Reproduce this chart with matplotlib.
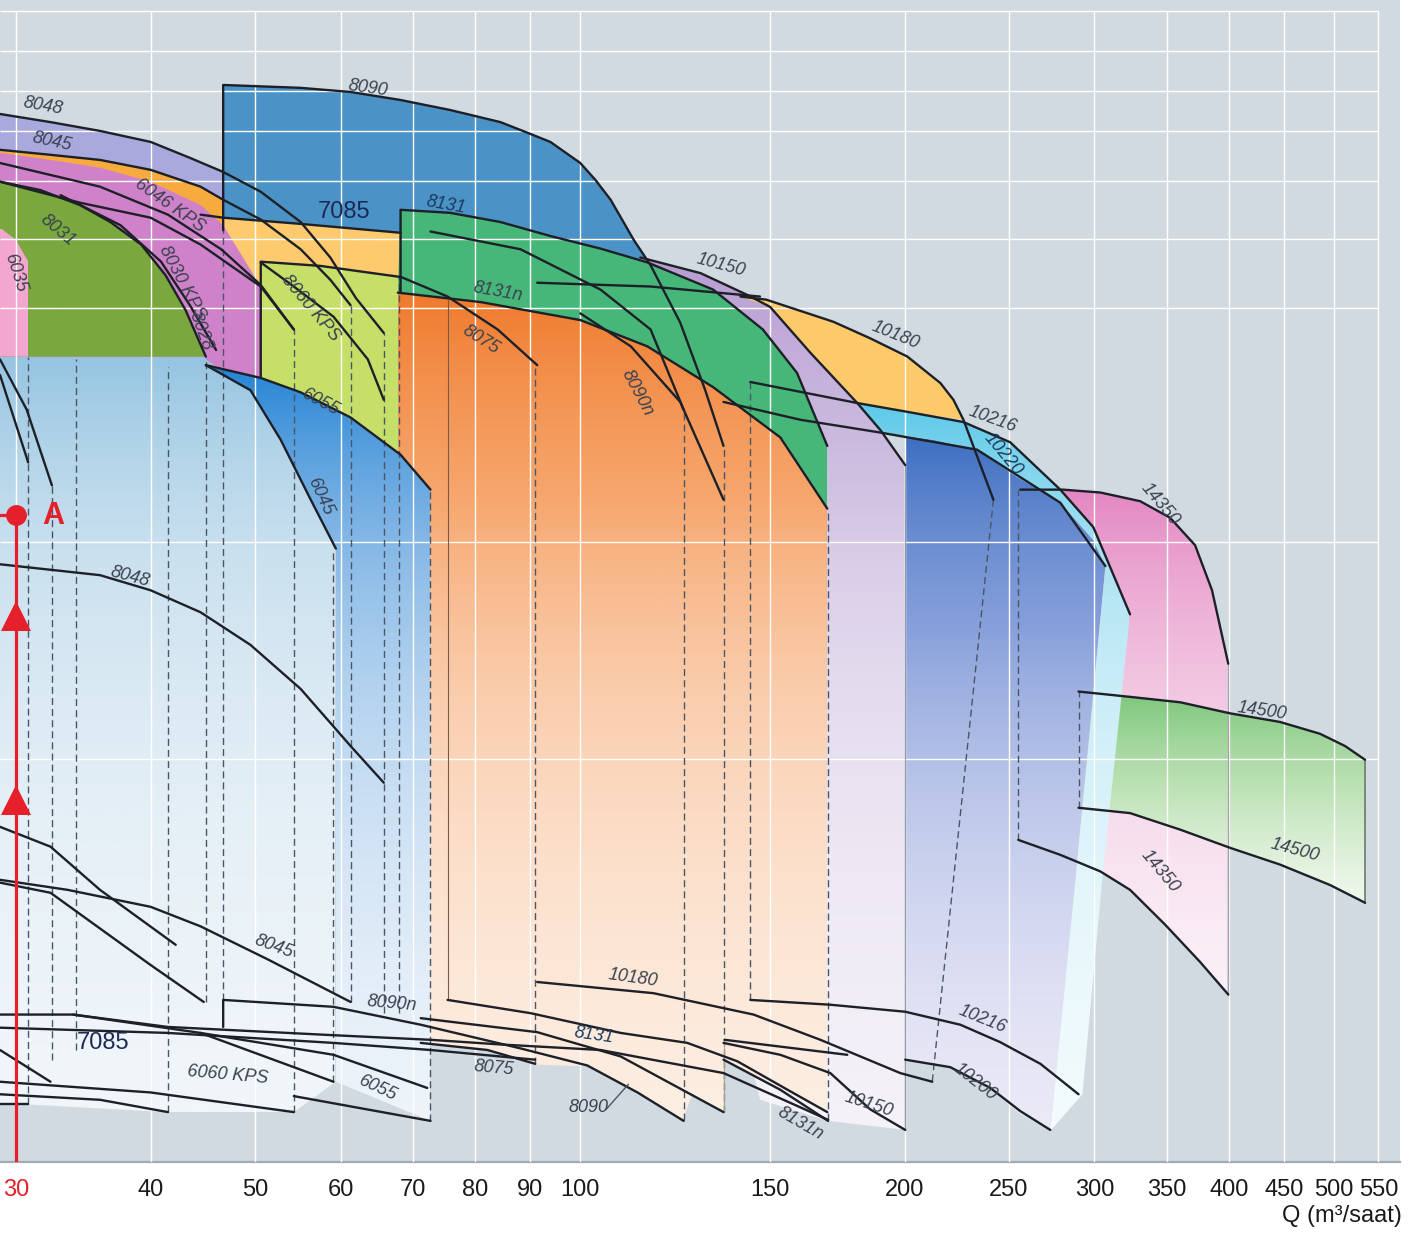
import numpy as np
import matplotlib
matplotlib.use("Agg")
import matplotlib.pyplot as plt
from matplotlib.patches import Polygon
from matplotlib.colors import LinearSegmentedColormap
from matplotlib.ticker import NullLocator

plt.rcParams['font.family'] = ['Liberation Sans Narrow', 'Liberation Sans', 'DejaVu Sans']

# axis ticks and grid (Q in m3/saat, H read on a log scale)
XTICKS = [30, 40, 50, 60, 70, 80, 90, 100, 150, 200, 250, 300, 350, 400, 450, 500, 550]
GRID_H = [100, 88.4, 78.2, 69.1, 59.3, 49.6, 40.0, 19.5, 10.0]

# coloured pump fields
ZONE_8048_Q = [29.0, 32.3, 35.9, 40.0, 43.5, 46.7, 46.7, 29.0]
ZONE_8048_H = [72.8, 71.0, 69.1, 66.8, 63.6, 60.9, 34.2, 34.2]
ZONE_6046_Q = [29.0, 32.3, 35.9, 40.0, 44.5, 46.7, 46.7, 29.0]
ZONE_6046_H = [65.2, 64.2, 63.2, 61.3, 58.2, 55.9, 34.2, 34.2]
ZONE_8090_Q = [46.7, 55.1, 61.3, 68.2, 75.8, 84.4, 88.1, 93.9, 100.1, 103.4, 106.8, 112.2, 116.3, 116.3, 46.7]
ZONE_8090_H = [79.6, 78.9, 77.9, 76.0, 73.7, 71.0, 69.3, 66.8, 62.6, 59.4, 55.9, 49.4, 45.7, 41.1, 41.1]
ZONE_7085_Q = [46.7, 55.1, 68.2, 68.2, 46.7]
ZONE_7085_H = [52.9, 51.9, 50.5, 25.1, 25.1]
ZONE_8030_Q = [29.0, 32.3, 35.9, 40.0, 44.5, 46.7, 50.6, 50.6, 29.0]
ZONE_8030_H = [64.6, 63.2, 61.7, 59.1, 55.0, 51.7, 42.8, 32.1, 32.1]
ZONE_8031_Q = [29.0, 31.6, 34.4, 36.7, 39.2, 41.3, 43.1, 45.0, 29.0]
ZONE_8031_H = [59.1, 57.6, 55.0, 52.2, 48.7, 44.3, 39.8, 34.5, 34.5]
ZONE_6035_Q = [29.0, 30.0, 30.8, 30.8, 29.0]
ZONE_6035_H = [51.3, 49.4, 46.2, 34.5, 34.5]
ZONE_8060_Q = [50.6, 57.5, 68.0, 68.0, 61.3, 55.1, 50.6]
ZONE_8060_H = [46.2, 45.6, 44.1, 25.7, 28.6, 30.9, 32.3]
ZONE_10150_Q = [113.8, 129.4, 143.0, 150.1, 163.6, 180.8, 190.0, 200.3, 200.3, 169.9, 146.9, 113.8]
ZONE_10150_H = [46.8, 44.6, 41.7, 40.2, 34.9, 29.9, 27.5, 24.7, 3.19, 3.28, 3.50, 16.3]
ZONE_8075_Q = [67.8, 80.9, 100.1, 115.5, 132.9, 153.4, 169.6, 169.6, 155.8, 135.9, 135.9,
               127.1, 124.5, 113.1, 101.6, 90.9, 82.1, 67.8]
ZONE_8075_H = [42.0, 40.8, 38.6, 35.6, 31.4, 26.9, 21.6, 3.35, 3.59, 3.94, 3.37,
               3.56, 3.28, 3.58, 3.88, 3.90, 4.08, 4.21]
ZONE_8131_Q = [68.2, 75.8, 84.4, 93.9, 104.5, 115.5, 132.9, 147.8, 159.0, 169.6, 169.6, 153.4, 132.9, 115.5, 100.1, 80.9, 67.8]
ZONE_8131_H = [54.2, 53.7, 52.2, 50.0, 48.1, 46.1, 42.4, 37.5, 32.8, 26.2, 21.6, 26.9, 31.4, 35.6, 38.6, 40.8, 42.0]
ZONE_10180_Q = [140.9, 148.9, 171.8, 185.8, 201.2, 215.9, 222.0, 226.8, 201.2, 180.8, 163.6, 150.1]
ZONE_10180_H = [41.5, 41.1, 38.4, 36.5, 34.5, 31.8, 30.2, 28.4, 29.1, 29.9, 34.9, 40.2]
ZONE_14350_Q = [280.7, 303.8, 330.8, 352.6, 371.9, 385.6, 399.2, 399.2, 375.9, 348.9, 323.7, 303.8, 278.9, 255.0, 255.0]
ZONE_14350_H = [22.9, 22.7, 22.1, 21.0, 19.3, 16.8, 13.4, 4.84, 5.35, 6.00, 6.68, 7.07, 7.44, 7.79, 22.9]
ZONE_14500_Q = [290.0, 323.7, 360.3, 401.0, 445.9, 485.6, 512.3, 534.6, 534.6, 496.1, 445.9, 401.0, 360.3, 323.7, 290.0]
ZONE_14500_H = [12.3, 12.1, 11.9, 11.5, 11.2, 10.8, 10.4, 9.97, 6.42, 6.78, 7.22, 7.60, 8.04, 8.46, 8.60]
ZONE_10216_Q = [200.3, 212.6, 233.5, 254.4, 278.9, 299.3, 307.1, 288.1, 273.0, 256.1, 240.2, 220.5, 200.3]
ZONE_10216_H = [27.0, 26.7, 25.9, 23.8, 22.0, 19.6, 18.1, 6.89, 3.18, 3.35, 3.61, 3.86, 3.94]
ZONE_10220_Q = [180.8, 201.2, 226.8, 250.6, 278.9, 299.3, 323.7, 305.0, 292.4, 273.0, 288.1, 307.1, 299.3, 278.9, 254.4, 233.5, 212.6, 190.0]
ZONE_10220_H = [29.9, 29.1, 28.2, 26.5, 22.9, 20.4, 15.6, 6.89, 3.56, 3.18, 6.89, 18.1, 19.6, 22.0, 23.8, 25.9, 26.7, 27.3]
ZONE_LOW_Q = [29.0, 45.0, 45.0, 49.5, 52.8, 56.3, 59.4, 59.4, 54.3, 41.5, 30.8, 29.0]
ZONE_LOW_H = [34.5, 34.5, 34.2, 31.1, 26.7, 22.2, 19.1, 3.70, 3.37, 3.37, 3.45, 3.45]
ZONE_6045_Q = [45.0, 50.6, 55.1, 61.3, 68.2, 72.7, 72.7, 59.4, 59.4, 56.3, 52.8, 49.5]
ZONE_6045_H = [33.6, 32.3, 30.9, 28.6, 25.5, 22.9, 3.28, 3.70, 19.1, 22.2, 26.7, 31.1]

# upper (largest impeller) curves
TOP_8048_Q = [29.0, 32.3, 35.9, 40.0, 43.5, 46.7, 50.6, 55.1, 58.7, 62.0, 65.8]
TOP_8048_H = [72.8, 71.0, 69.1, 66.8, 63.6, 60.9, 57.3, 52.2, 46.8, 41.3, 37.1]
TOP_8045_Q = [29.0, 32.3, 35.9, 40.0, 44.5, 46.7, 50.6, 55.1, 58.7, 61.3]
TOP_8045_H = [65.2, 64.2, 63.2, 61.3, 58.2, 55.9, 52.6, 48.0, 43.7, 40.4]
TOP_7085_Q = [44.5, 46.7, 55.1, 68.2]
TOP_7085_H = [53.4, 52.9, 51.9, 50.5]
TOP_8030_Q = [29.0, 35.9, 41.5, 46.5, 50.6, 54.3]
TOP_8030_H = [62.6, 58.2, 53.4, 48.0, 43.0, 37.5]
TOP_8030B_Q = [29.0, 34.4, 40.0, 44.5, 50.6]
TOP_8030B_H = [59.1, 55.4, 52.9, 48.7, 42.8]
TOP_8028_Q = [33.0, 37.5, 40.9, 43.5, 46.0]
TOP_8028_H = [56.7, 51.7, 46.2, 40.4, 35.2]
TOP_8031_Q = [29.0, 31.6, 34.4, 36.7, 39.2, 41.3, 43.1, 45.0]
TOP_8031_H = [59.1, 57.6, 55.0, 52.2, 48.7, 44.3, 39.8, 34.5]
TOP_6035A_Q = [29.0, 30.7, 32.4]
TOP_6035A_H = [34.2, 29.3, 23.2]
TOP_6035B_Q = [29.0, 30.8]
TOP_6035B_H = [32.6, 24.9]
TOP_8060_Q = [50.6, 50.6, 57.5, 68.0]
TOP_8060_H = [32.3, 46.2, 45.6, 44.1]
TOP_8060A_Q = [50.6, 54.3, 59.1, 63.6, 65.8]
TOP_8060A_H = [46.1, 42.8, 39.0, 34.2, 30.2]
TOP_8060B_Q = [50.6, 54.3]
TOP_8060B_H = [42.8, 37.5]
TOP_6055_Q = [45.0, 50.6, 55.1, 61.3, 68.2, 72.7]
TOP_6055_H = [33.6, 32.3, 30.9, 28.6, 25.5, 22.9]
TOP_6045_Q = [45.0, 49.5, 52.8, 56.3, 59.4]
TOP_6045_H = [33.6, 31.1, 26.7, 22.2, 19.1]
TOP_8090_Q = [46.7, 46.7, 55.1, 61.3, 68.2, 75.8, 84.4, 88.1, 93.9, 100.1, 103.4, 106.8, 112.2, 116.3, 123.9, 130.7, 135.9]
TOP_8090_H = [50.9, 79.6, 78.9, 77.9, 76.0, 73.7, 71.0, 69.3, 66.8, 62.6, 59.4, 55.9, 49.4, 45.7, 38.3, 31.1, 26.2]
TOP_8131_Q = [68.2, 68.2, 75.8, 84.4, 93.9, 104.5, 115.5, 132.9, 147.8, 159.0, 169.6]
TOP_8131_H = [42.0, 54.2, 53.7, 52.2, 50.0, 48.1, 46.1, 42.4, 37.5, 32.8, 26.2]
TOP_8131N_Q = [67.8, 80.9, 100.1, 115.5, 132.9, 153.4, 169.6]
TOP_8131N_H = [42.0, 40.8, 38.6, 35.6, 31.4, 26.9, 21.6]
TOP_8075_Q = [68.2, 75.4, 83.9, 91.3]
TOP_8075_H = [44.1, 41.5, 37.5, 33.6]
TOP_8090N_Q = [100.1, 111.5, 123.9, 135.9]
TOP_8090N_H = [39.4, 35.6, 30.0, 22.2]
TOP_MIDA_Q = [72.7, 88.1, 104.5, 116.3, 124.8]
TOP_MIDA_H = [50.7, 48.0, 42.4, 37.5, 29.3]
TOP_MIDB_Q = [91.3, 116.3, 146.9]
TOP_MIDB_H = [43.3, 42.8, 41.5]
TOP_10150_Q = [113.8, 129.4, 143.0, 150.1, 163.6, 180.8, 190.0, 200.3]
TOP_10150_H = [46.8, 44.6, 41.7, 40.2, 34.9, 29.9, 27.5, 24.7]
TOP_10180_Q = [140.9, 148.9, 171.8, 185.8, 201.2, 215.9, 222.0, 226.8, 241.8]
TOP_10180_H = [41.5, 41.1, 38.4, 36.5, 34.5, 31.8, 30.2, 28.4, 22.2]
TOP_10216_Q = [143.9, 180.8, 201.2, 226.8, 250.6, 278.9, 299.3, 323.7]
TOP_10216_H = [31.9, 29.9, 29.1, 28.2, 26.5, 22.9, 20.4, 15.6]
TOP_10200_Q = [135.9, 160.1, 190.0, 233.5, 278.9, 307.1]
TOP_10200_H = [30.0, 28.4, 27.3, 25.9, 22.0, 18.1]
TOP_14350_Q = [256.1, 280.7, 303.8, 330.8, 352.6, 371.9, 385.6, 399.2]
TOP_14350_H = [22.9, 22.9, 22.7, 22.1, 21.0, 19.3, 16.8, 13.4]
TOP_14500_Q = [290.0, 323.7, 360.3, 401.0, 445.9, 485.6, 512.3, 534.6]
TOP_14500_H = [12.3, 12.1, 11.9, 11.5, 11.2, 10.8, 10.4, 9.97]

# lower (smallest impeller) curves
LOW_8048_Q = [29.0, 35.9, 40.0, 44.5, 49.5, 55.1, 61.3, 65.8]
LOW_8048_H = [18.2, 17.6, 16.8, 15.7, 14.2, 12.4, 10.4, 9.29]
LOW_A_Q = [29.0, 32.3, 35.9, 42.2]
LOW_A_H = [8.11, 7.63, 6.68, 5.64]
LOW_B_Q = [29.0, 32.3, 40.0, 44.8]
LOW_B_H = [6.83, 6.62, 5.30, 4.73]
LOW_8045_Q = [29.0, 33.5, 40.0, 44.5, 51.4, 61.3]
LOW_8045_H = [6.89, 6.68, 6.34, 5.97, 5.39, 4.73]
LOW_8090_Q = [46.7, 46.7, 59.1, 71.2, 88.1, 101.6, 113.1, 124.8]
LOW_8090_H = [4.38, 4.76, 4.66, 4.41, 4.10, 3.89, 3.58, 3.28]
LOW_C_Q = [29.0, 33.9, 41.5, 59.1, 72.7, 84.4, 104.5, 135.9, 160.1, 169.9]
LOW_C_H = [4.55, 4.55, 4.38, 4.27, 4.21, 4.15, 4.08, 3.80, 3.42, 3.29]
LOW_D_Q = [29.0, 41.5, 59.1, 72.7, 90.9]
LOW_D_H = [4.37, 4.30, 4.17, 4.08, 3.96]
LOW_E_Q = [33.9, 44.5, 59.1]
LOW_E_H = [4.55, 4.30, 3.70]
LOW_F_Q = [44.5, 59.1, 72.2]
LOW_F_H = [4.30, 4.02, 3.63]
LOW_G_Q = [29.0, 32.3]
LOW_G_H = [4.08, 3.70]
LOW_6060_Q = [29.0, 40.0, 54.3]
LOW_6060_H = [3.70, 3.58, 3.37]
LOW_H_Q = [29.0, 35.9, 41.5]
LOW_H_H = [3.56, 3.50, 3.37]
LOW_I_Q = [71.2, 91.3, 109.1, 135.9]
LOW_I_H = [4.50, 4.31, 4.00, 3.37]
LOW_J_Q = [136.2, 177.0]
LOW_J_H = [4.21, 4.02]
LOW_6055_Q = [54.3, 72.7]
LOW_6055_H = [3.54, 3.28]
LOW_BOX_Q = [29.0, 30.8]
LOW_BOX_H = [3.45, 3.45]
LOW_8075_Q = [71.2, 82.1, 90.9]
LOW_8075_H = [4.17, 4.08, 3.91]
LOW_8131_Q = [75.4, 90.0, 109.1, 125.8, 140.0, 155.8, 169.6]
LOW_8131_H = [4.76, 4.57, 4.30, 4.17, 3.94, 3.61, 3.37]
LOW_10180_Q = [91.3, 117.0, 144.9, 167.1, 182.0, 198.2, 212.2]
LOW_10180_H = [5.03, 4.86, 4.55, 4.21, 4.00, 3.80, 3.70]
LOW_10216_Q = [143.9, 170.7, 200.3, 225.3, 245.3, 267.3, 290.0]
LOW_10216_H = [4.76, 4.69, 4.59, 4.41, 4.18, 3.91, 3.56]
LOW_10150_Q = [135.9, 153.4, 170.7, 185.8, 200.3]
LOW_10150_H = [4.17, 4.02, 3.80, 3.40, 3.19]
LOW_10200_Q = [200.3, 220.5, 240.2, 256.1, 273.0]
LOW_10200_H = [3.96, 3.87, 3.63, 3.38, 3.19]
LOW_8131N_Q = [135.9, 153.4, 169.9]
LOW_8131N_H = [3.96, 3.61, 3.28]
LOW_14350_Q = [255.0, 278.9, 303.8, 323.7, 348.9, 375.9, 399.2]
LOW_14350_H = [7.79, 7.44, 7.07, 6.68, 6.00, 5.35, 4.84]
LOW_14500_Q = [290.0, 323.7, 360.3, 401.0, 445.9, 496.1, 534.6]
LOW_14500_H = [8.60, 8.46, 8.04, 7.60, 7.22, 6.78, 6.42]

# dashed limit lines (Q, H top, H bottom)
DASH_Q = [30.8, 32.4, 34.1, 41.5, 45.0, 46.7, 54.3, 59.1, 61.3, 65.8, 68.0, 72.7, 90.9, 124.8, 135.9, 143.9, 169.9, 255.0, 290.0]
DASH_TOP = [34.5, 23.2, 34.2, 33.4, 34.5, 50.9, 37.5, 19.1, 40.4, 37.1, 44.1, 22.9, 33.6, 29.3, 26.2, 31.9, 21.6, 22.9, 12.3]
DASH_BOT = [3.45, 3.96, 4.08, 3.37, 4.73, 4.76, 3.37, 3.70, 4.73, 4.57, 4.57, 3.28, 3.91, 3.29, 3.37, 4.76, 3.29, 7.79, 8.60]
SLANT_Q = [241.8, 212.2]
SLANT_H = [22.2, 3.70]

# curve names
LABELS = ['8048', '8045', '6046 KPS', '8031', '6035', '8030 KPS', '8028', '8090', '8131',
          '8131n', '8060 KPS', '6055', '6045', '8075', '8090n', '10150', '10180', '10216',
          '10220', '14350', '14500', '14500', '14350', '8048', '8045', '8090n', '6060 KPS',
          '6055', '10180', '8131', '8075', '8090', '10150', '8131n', '10216', '10200']
LABEL_Q = [31.8, 32.4, 41.7, 32.8, 30.0, 42.8, 44.5, 63.6, 75.1,
           83.9, 56.3, 57.5, 57.5, 80.9, 113.1, 135.1, 196.2, 241.2,
           246.9, 345.2, 429.2, 460.3, 345.2, 38.3, 52.0, 67.0, 47.2,
           65.0, 112.0, 103.0, 83.2, 101.9, 185.1, 160.1, 236.1, 232.6]
LABEL_H = [74.6, 66.8, 55.0, 50.9, 44.6, 43.3, 37.3, 78.9, 55.0,
           42.1, 40.0, 30.0, 22.4, 36.3, 30.8, 45.7, 36.9, 28.4,
           25.5, 21.9, 11.6, 7.55, 7.07, 17.5, 5.61, 4.71, 3.78,
           3.63, 5.09, 4.27, 3.86, 3.42, 3.45, 3.25, 4.48, 3.70]
LABEL_ROT = [-10, -12, -35, -40, -72, -62, -70, -8, -10,
             -10, -50, -28, -65, -32, -62, -15, -22, -20,
             -50, -50, -8, -15, -50, -15, -20, -5, -5,
             -25, -8, -8, -5, 0, -18, -30, -22, -38]
BIG_LABELS = ['7085', '7085']
BIG_Q = [60.4, 36.1]
BIG_H = [53.9, 4.17]

# duty point A
POINT_Q = 30
POINT_H = 21.2
ARROW_H = [15.5, 8.82]

BG = '#d2dae1'
RED = '#e5202b'
INK = '#1d2027'

fig = plt.figure(figsize=(14.27, 12.36), dpi=100)
ax = fig.add_axes([0, 74 / 1236, 1400 / 1427, 1162 / 1236])
ax.set_xscale('log')
ax.set_yscale('log')
ax.set_xlim(29.0, 576)
ax.set_ylim(2.89, 103.4)
ax.set_autoscale_on(False)
ax.set_facecolor(BG)


def shade(q, h, colors, z):
    poly = Polygon(np.column_stack([q, h]), closed=True, facecolor='none',
                   edgecolor='none', zorder=z)
    ax.add_patch(poly)
    cmap = LinearSegmentedColormap.from_list('shade', colors)
    grad = np.linspace(0, 1, 256)[:, None]
    im = ax.imshow(grad, cmap=cmap, extent=(min(q), max(q), min(h), max(h)),
                   origin='upper', aspect='auto', interpolation='bilinear', zorder=z)
    im.set_clip_path(poly)


zones = [
    (ZONE_8048_Q, ZONE_8048_H, ['#a9a9de', '#a9a9de']),
    (ZONE_6046_Q, ZONE_6046_H, ['#f7ab3f', '#f7ab3f']),
    (ZONE_8090_Q, ZONE_8090_H, ['#4b93c7', '#4b93c7']),
    (ZONE_7085_Q, ZONE_7085_H, ['#fdca6d', '#fdca6d']),
    (ZONE_8030_Q, ZONE_8030_H, ['#cf82c9', '#cf82c9']),
    (ZONE_8031_Q, ZONE_8031_H, ['#7aa83e', '#7aa83e']),
    (ZONE_6035_Q, ZONE_6035_H, ['#f3a7cf', '#f3a7cf']),
    (ZONE_8060_Q, ZONE_8060_H, ['#c6df69', '#c6df69']),
    (ZONE_10150_Q, ZONE_10150_H, ['#b79cd2', '#cdbde0', '#f4f1f8']),
    (ZONE_8075_Q, ZONE_8075_H, ['#ef7a2c', '#f6a56c', '#fdeee2']),
    (ZONE_8131_Q, ZONE_8131_H, ['#46b779', '#46b779']),
    (ZONE_10180_Q, ZONE_10180_H, ['#fdca6b', '#fdca6b']),
    (ZONE_14350_Q, ZONE_14350_H, ['#e387c2', '#f0bddc', '#fbf1f7']),
    (ZONE_14500_Q, ZONE_14500_H, ['#7dc67b', '#b9e0b1', '#f1f8ee']),
    (ZONE_10216_Q, ZONE_10216_H, ['#3e6fc1', '#869fda', '#eceaf7']),
    (ZONE_10220_Q, ZONE_10220_H, ['#5cc9e8', '#b6e6f4', '#f3fbfd']),
    (ZONE_LOW_Q, ZONE_LOW_H, ['#95c4e1', '#c9e0ee', '#f1f6fa']),
    (ZONE_6045_Q, ZONE_6045_H, ['#2483d4', '#8bbbe7', '#eef4fa']),
]
for i, (q, h, cols) in enumerate(zones):
    shade(q, h, cols, 2 + i * 0.1)

# white grid over the fields
ax.hlines(GRID_H, 29.0, 550, colors='white', lw=1.0, zorder=10)
ax.vlines(XTICKS, 2.89, 100, colors='white', lw=1.0, zorder=10)

# dashed limits
for q, t, b in zip(DASH_Q, DASH_TOP, DASH_BOT):
    ax.plot([q, q], [b, t], color='#4a5566', lw=1.0, dashes=(5, 3), zorder=12)
ax.plot(SLANT_Q, SLANT_H, color='#4a5566', lw=1.0, dashes=(5, 3), zorder=12)
ax.plot([75.4, 75.4], [4.76, 41.1], color='#7a5a4a', lw=0.8, zorder=12)
ax.plot([200.3, 200.3], [3.19, 24.7], color='#9a9aaa', lw=0.8, zorder=12)
ax.plot([534.6, 534.6], [6.42, 9.97], color='#6a7a6a', lw=1.2, zorder=12)
ax.plot([399.2, 399.2], [4.84, 13.4], color='#b0a0b0', lw=1.0, zorder=12)
ax.plot([135.9, 135.9], [3.37, 4.21], color='#b0a090', lw=0.8, zorder=12)

curves = [
    (TOP_8048_Q, TOP_8048_H), (TOP_8045_Q, TOP_8045_H), (TOP_7085_Q, TOP_7085_H),
    (TOP_8030_Q, TOP_8030_H), (TOP_8030B_Q, TOP_8030B_H), (TOP_8028_Q, TOP_8028_H),
    (TOP_8031_Q, TOP_8031_H),
    (TOP_6035A_Q, TOP_6035A_H), (TOP_6035B_Q, TOP_6035B_H), (TOP_8060_Q, TOP_8060_H),
    (TOP_8060A_Q, TOP_8060A_H), (TOP_8060B_Q, TOP_8060B_H), (TOP_6055_Q, TOP_6055_H),
    (TOP_6045_Q, TOP_6045_H), (TOP_8090_Q, TOP_8090_H), (TOP_8131_Q, TOP_8131_H),
    (TOP_8131N_Q, TOP_8131N_H), (TOP_8075_Q, TOP_8075_H), (TOP_8090N_Q, TOP_8090N_H),
    (TOP_MIDA_Q, TOP_MIDA_H), (TOP_MIDB_Q, TOP_MIDB_H), (TOP_10150_Q, TOP_10150_H),
    (TOP_10180_Q, TOP_10180_H), (TOP_10216_Q, TOP_10216_H), (TOP_10200_Q, TOP_10200_H),
    (TOP_14350_Q, TOP_14350_H), (TOP_14500_Q, TOP_14500_H),
    (LOW_8048_Q, LOW_8048_H), (LOW_A_Q, LOW_A_H), (LOW_B_Q, LOW_B_H),
    (LOW_8045_Q, LOW_8045_H), (LOW_8090_Q, LOW_8090_H), (LOW_C_Q, LOW_C_H),
    (LOW_D_Q, LOW_D_H), (LOW_E_Q, LOW_E_H), (LOW_F_Q, LOW_F_H), (LOW_G_Q, LOW_G_H),
    (LOW_6060_Q, LOW_6060_H), (LOW_H_Q, LOW_H_H), (LOW_I_Q, LOW_I_H), (LOW_J_Q, LOW_J_H),
    (LOW_6055_Q, LOW_6055_H),
    (LOW_BOX_Q, LOW_BOX_H), (LOW_8075_Q, LOW_8075_H), (LOW_8131_Q, LOW_8131_H),
    (LOW_10180_Q, LOW_10180_H), (LOW_10216_Q, LOW_10216_H), (LOW_10150_Q, LOW_10150_H),
    (LOW_10200_Q, LOW_10200_H), (LOW_8131N_Q, LOW_8131N_H), (LOW_14350_Q, LOW_14350_H),
    (LOW_14500_Q, LOW_14500_H),
]
for q, h in curves:
    ax.plot(q, h, color=INK, lw=1.7, solid_capstyle='round', solid_joinstyle='round', zorder=14)

# leader under the lower 8090 label
ax.plot([105.8, 110.9], [3.40, 3.67], color='#4a5566', lw=1.0, zorder=14)

for s, q, h, r in zip(LABELS, LABEL_Q, LABEL_H, LABEL_ROT):
    col = '#1d3a5c' if s in ('8131', '10220') else '#3b4250'
    ax.text(q, h, s, rotation=r, rotation_mode='anchor', ha='center', va='center',
            fontsize=13, style='italic', color=col, zorder=16, clip_on=True)
for s, q, h in zip(BIG_LABELS, BIG_Q, BIG_H):
    ax.text(q, h, s, ha='center', va='center', fontsize=17, color='#1b2a55', zorder=16,
            family=['Liberation Sans', 'DejaVu Sans'])

# duty point A with rising arrows
ax.plot([POINT_Q, POINT_Q], [2.89, POINT_H], color=RED, lw=2.3, zorder=20)
ax.plot([29.0, POINT_Q], [POINT_H, POINT_H], color=RED, lw=2.3, zorder=20)
ax.plot([POINT_Q], [POINT_H], 'o', color=RED, ms=14, zorder=21)
ax.plot([POINT_Q] * len(ARROW_H), ARROW_H, '^', color=RED, ms=22, mew=0, zorder=21)
ax.text(32.5, 21.1, 'A', color=RED, fontsize=22, fontweight='bold', ha='center', va='center',
        family=['Liberation Sans', 'DejaVu Sans'], zorder=21)

ax.set_xticks(XTICKS)
ax.set_xticklabels([str(t) for t in XTICKS])
ax.xaxis.set_minor_locator(NullLocator())
ax.set_yticks([])
ax.yaxis.set_minor_locator(NullLocator())
ax.tick_params(axis='x', length=0, pad=12, labelsize=17, colors='#1a1a1a')
ax.get_xticklabels()[0].set_color(RED)
for s in ['top', 'left', 'right']:
    ax.spines[s].set_visible(False)
ax.spines['bottom'].set_color('#a2abb3')
ax.spines['bottom'].set_linewidth(1.6)

fig.text(1402 / 1427, 1 - 1216 / 1236, 'Q (m³/saat)', ha='right', va='center',
         fontsize=17, color='#1a1a1a')

fig.savefig('out.png', dpi=100, facecolor='white')
